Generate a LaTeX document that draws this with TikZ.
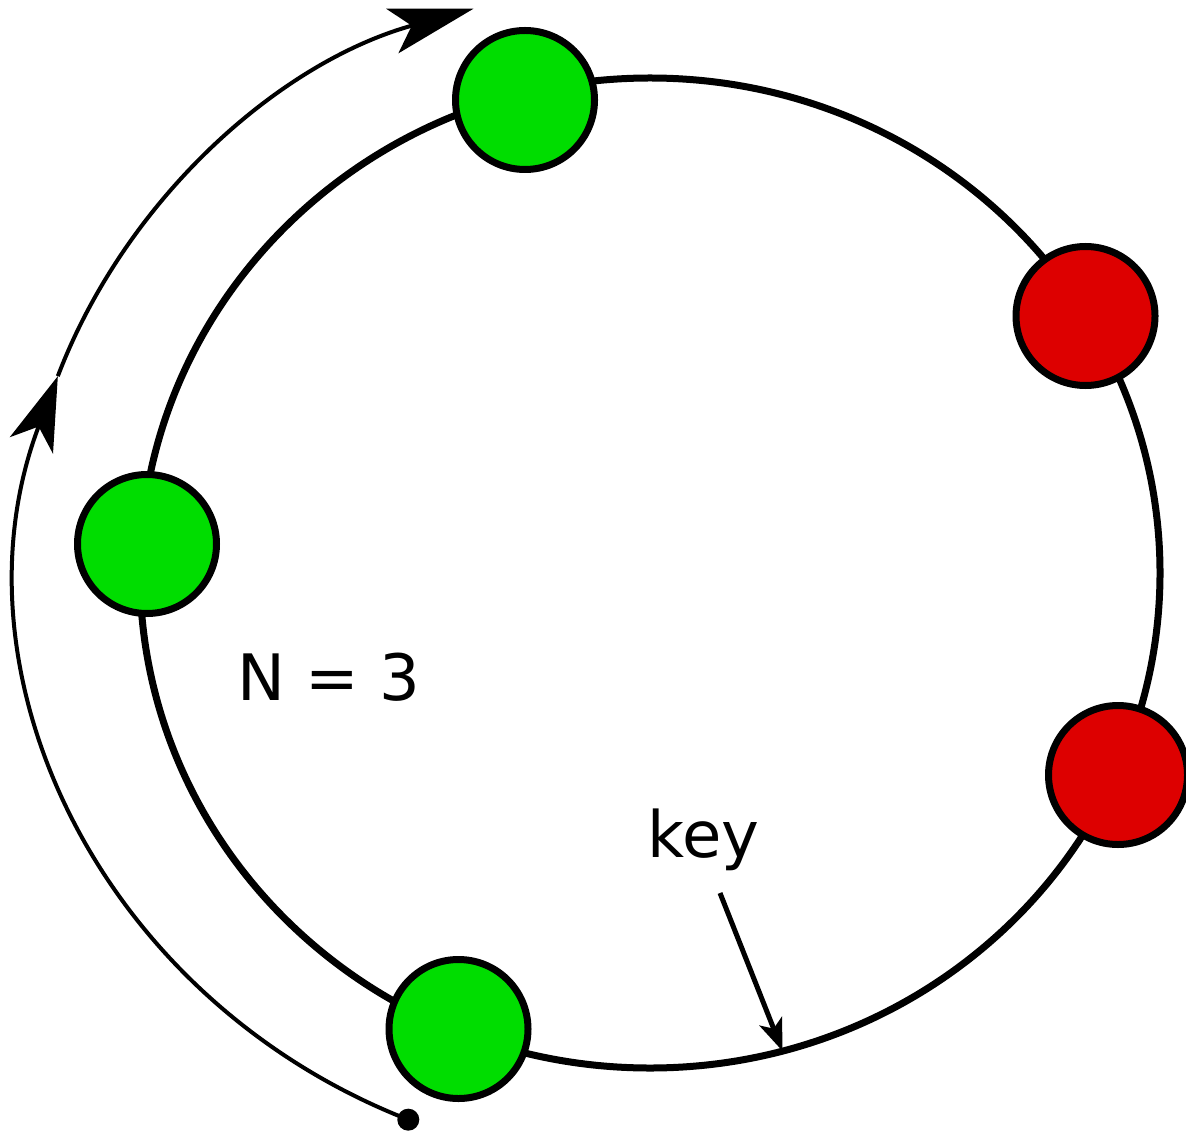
\documentclass[tikz,border=0pt]{standalone}
\usepackage{fontspec}
\setmainfont{DejaVu Sans}
\usetikzlibrary{arrows.meta}
\definecolor{nodegreen}{RGB}{0,221,0}
\definecolor{nodered}{RGB}{221,0,0}
\begin{document}
\begin{tikzpicture}[x=0.5pt,y=-0.5pt,
  peer/.style={circle, draw=black, line width=3.5pt, minimum size=69.5pt, inner sep=0pt},
  greenpeer/.style={peer, fill=nodegreen},
  redpeer/.style={peer, fill=nodered},
  label text/.style={font=\fontsize{32}{38}\selectfont, inner sep=0pt}]
\useasboundingbox (0,0) rectangle (1186,1133);
% ring
\draw[line width=3.5pt] (650,573) ellipse [x radius=255pt, y radius=247.5pt];
% nodes
\node[greenpeer] (g1) at (525,100) {};
\node[greenpeer] (g2) at (147,544) {};
\node[greenpeer] (g3) at (458.5,1029) {};
\node[redpeer] (r1) at (1085.5,316) {};
\node[redpeer] (r2) at (1118,775) {};
% outer arc with arrows
\coordinate (c) at (650,575);
\coordinate (s) at ([shift={(c)}]247.4:314.5pt and 295pt);
\coordinate (m) at ([shift={(c)}]160.3:314.5pt and 295pt);
\node[circle, fill=black, inner sep=0pt, minimum size=11pt] (dot) at (s) {};
\draw[line width=2pt, -{Stealth[length=37pt, width=23pt, inset=10pt]}]
  (s) arc[start angle=247.4, end angle=160.3, x radius=314.5pt, y radius=295pt];
\draw[line width=2pt, -{Stealth[length=42pt, width=23pt, inset=10pt]}]
  (m) arc[start angle=160.3, end angle=106.3, x radius=314.5pt, y radius=295pt];
% labels
\node[label text, anchor=base] (n) at (329,700) {N = 3};
\node[label text, anchor=base] (key) at (703.5,857) {key};
\coordinate (kstart) at (720,893);
\coordinate (kend) at (782.5,1051);
\draw[line width=2.5pt, -{Stealth[length=16pt, width=12pt, inset=4pt]}] (kstart) -- (kend);
\end{tikzpicture}
\end{document}
